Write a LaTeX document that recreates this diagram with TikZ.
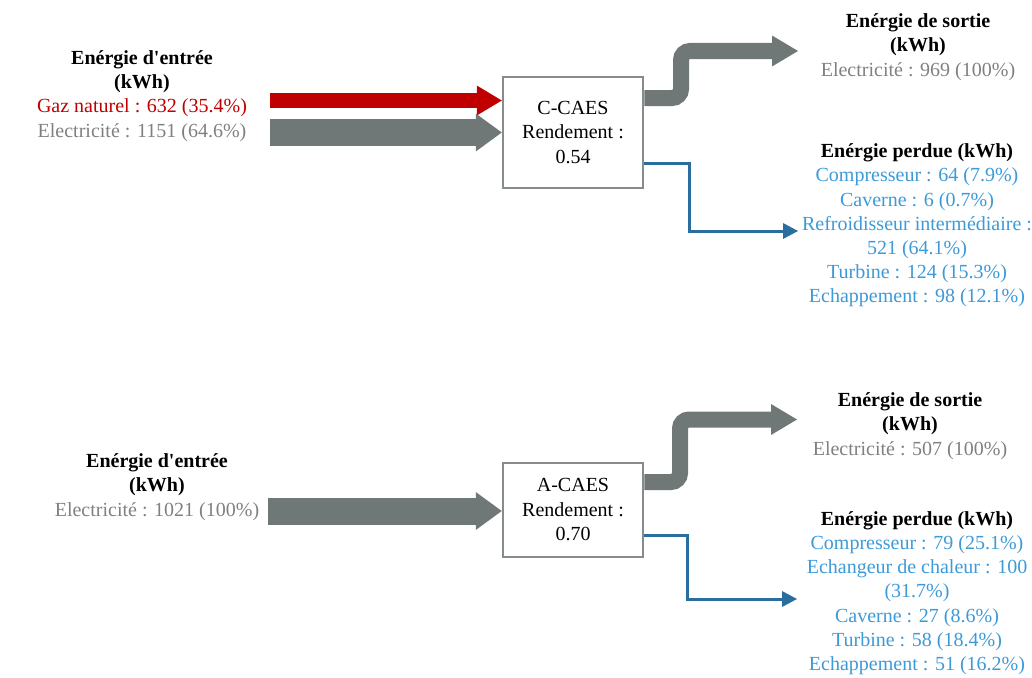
\documentclass[tikz,border=0pt]{standalone}
\usepackage{fontspec}
\setmainfont{Liberation Serif}
\usetikzlibrary{arrows.meta}
\definecolor{cred}{HTML}{C00000}
\definecolor{cgrey}{HTML}{6F7877}
\definecolor{cblue}{HTML}{2A6EA0}
\definecolor{tblue}{HTML}{3C9AD8}
\definecolor{tgrey}{HTML}{808080}
\definecolor{cbox}{HTML}{858C8B}
\tikzset{
  txt/.style={align=center, inner sep=0pt, font=\fontsize{20}{24.2}\selectfont},
  procbox/.style={draw=cbox, line width=2.5pt, fill=white, minimum width=140pt, inner sep=0pt, align=center, font=\fontsize{20}{24.5}\selectfont},
  bigarrow/.style={line width=27pt, draw=cgrey, -{Triangle[length=26pt,width=38pt,line width=0pt]}},
  redarrow/.style={line width=15pt, draw=cred, -{Triangle[length=25pt,width=30pt,line width=0pt]}},
  outarrow/.style={line width=16pt, draw=cgrey, rounded corners=9pt, -{Triangle[length=26pt,width=31pt,line width=0pt]}},
  lossarrow/.style={line width=3pt, draw=cblue, -{Triangle[length=15pt,width=16pt,line width=0pt]}},
}
\begin{document}
\begin{tikzpicture}[x=1pt,y=-1pt]
\useasboundingbox (0,0) rectangle (1032,677);

% ---------- C-CAES ----------
\node[procbox, minimum height=111pt] (cc) at (573,132.5) {C-CAES\\Rendement :\\0.54};
\node[txt] (cin) at (142,96) {\textbf{Enérgie d\textquotesingle entrée}\\\textbf{(kWh)}\\\textcolor{cred}{Gaz naturel : 632 (35.4\%)}\\\textcolor{tgrey}{Electricité : 1151 (64.6\%)}};
\node[txt] (cout) at (918,47) {\textbf{Enérgie de sortie}\\\textbf{(kWh)}\\\textcolor{tgrey}{Electricité : 969 (100\%)}};
\node[txt] (closs) at (917,225.5) {\textbf{Enérgie perdue (kWh)}\\\color{tblue}Compresseur : 64 (7.9\%)\\\color{tblue}Caverne : 6 (0.7\%)\\\color{tblue}Refroidisseur intermédiaire :\\\color{tblue}521 (64.1\%)\\\color{tblue}Turbine : 124 (15.3\%)\\\color{tblue}Echappement : 98 (12.1\%)};

\coordinate (cinR) at (270,100.5);
\coordinate (cinG) at (270,132.5);
\coordinate (coutT) at (798,51);
\coordinate (clossT) at (798,231);

\draw[redarrow] (cinR) -- ([yshift=32pt]cc.west);
\draw[bigarrow] (cinG) -- (cc.west);
\draw[outarrow] ([yshift=34.5pt]cc.east) -- (681,98) -- (681,51) -- (coutT);
\draw[lossarrow] ([yshift=-30.5pt]cc.east) -- (689,163) -- (689,231) -- (clossT);

% ---------- A-CAES ----------
\node[procbox, minimum height=94pt] (ac) at (573,510) {A-CAES\\Rendement :\\0.70};
\node[txt] (ain) at (157,487) {\textbf{Enérgie d\textquotesingle entrée}\\\textbf{(kWh)}\\\textcolor{tgrey}{Electricité : 1021 (100\%)}};
\node[txt] (aout) at (910,426) {\textbf{Enérgie de sortie}\\\textbf{(kWh)}\\\textcolor{tgrey}{Electricité : 507 (100\%)}};
\node[txt] (aloss) at (917,593) {\textbf{Enérgie perdue (kWh)}\\\color{tblue}Compresseur : 79 (25.1\%)\\\color{tblue}Echangeur de chaleur : 100\\\color{tblue}(31.7\%)\\\color{tblue}Caverne : 27 (8.6\%)\\\color{tblue}Turbine : 58 (18.4\%)\\\color{tblue}Echappement : 51 (16.2\%)};

\coordinate (ainG) at (268,511);
\coordinate (aoutT) at (797,419.5);
\coordinate (alossT) at (797,599);

\draw[bigarrow] (ainG) -- ([yshift=-1pt]ac.west);
\draw[outarrow] ([yshift=28pt]ac.east) -- (680,482) -- (680,419.5) -- (aoutT);
\draw[lossarrow] ([yshift=-25pt]ac.east) -- (687,535) -- (687,599) -- (alossT);
\end{tikzpicture}
\end{document}
